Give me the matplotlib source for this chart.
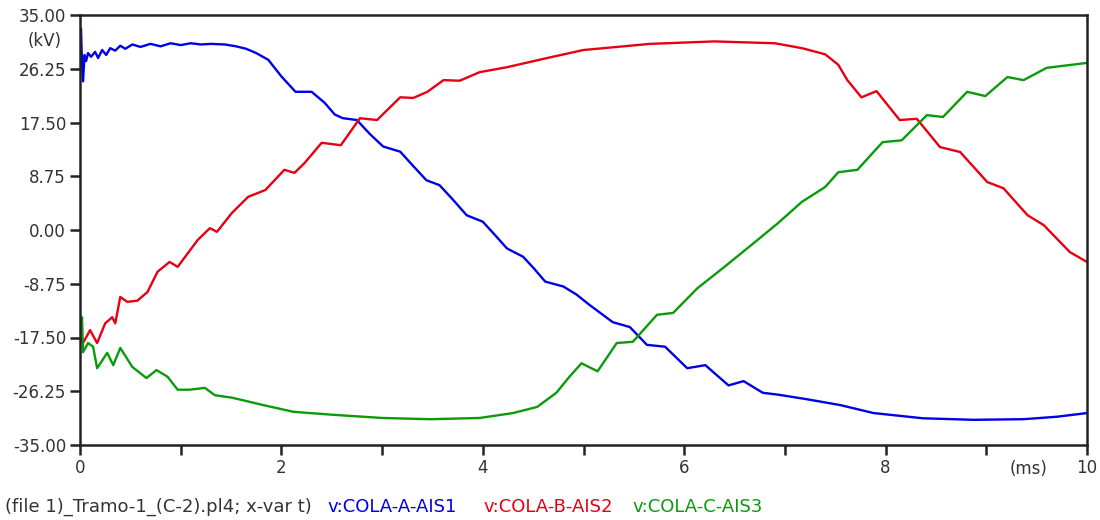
import matplotlib
matplotlib.use("Agg")
import matplotlib.pyplot as plt
from matplotlib.ticker import FixedLocator, FixedFormatter

# Phase voltages on the line end (kV) against time (ms)
t_a = [0.00, 0.01, 0.02, 0.03, 0.045, 0.06, 0.08, 0.11, 0.15, 0.18, 0.22, 0.26,
       0.30, 0.35, 0.40, 0.45, 0.52, 0.60, 0.70, 0.80, 0.90, 1.00, 1.10, 1.20,
       1.30, 1.44, 1.55, 1.65, 1.75, 1.87, 2.00, 2.14, 2.30, 2.43, 2.53, 2.61,
       2.75, 2.88, 3.01, 3.18, 3.31, 3.44, 3.57, 3.70, 3.84, 4.00, 4.12, 4.24,
       4.40, 4.51, 4.62, 4.80, 4.93, 5.06, 5.29, 5.46, 5.63, 5.81, 6.03, 6.21,
       6.44, 6.59, 6.78, 6.93, 7.20, 7.55, 7.88, 8.37, 8.87, 9.37, 9.70, 10.00]
v_a = [31.5, 32.8, 27.0, 24.2, 28.5, 27.5, 28.8, 28.2, 29.0, 28.0, 29.3, 28.5,
       29.6, 29.2, 30.0, 29.5, 30.2, 29.8, 30.3, 29.9, 30.4, 30.1, 30.4, 30.2,
       30.3, 30.2, 29.9, 29.5, 28.8, 27.7, 25.0, 22.5, 22.5, 20.7, 18.8, 18.2,
       17.9, 15.6, 13.6, 12.75, 10.4, 8.1, 7.3, 5.0, 2.4, 1.35, -0.8, -3.0,
       -4.35, -6.3, -8.4, -9.2, -10.5, -12.2, -15.0, -15.8, -18.7, -19.0, -22.5, -22.0,
       -25.3, -24.6, -26.5, -26.8, -27.5, -28.5, -29.8, -30.65, -30.9, -30.8, -30.4, -29.8]

t_b = [0.00, 0.03, 0.10, 0.17, 0.25, 0.32, 0.35, 0.40, 0.47, 0.57, 0.67, 0.77,
       0.89, 0.97, 1.17, 1.29, 1.36, 1.51, 1.67, 1.84, 2.03, 2.13, 2.23, 2.40,
       2.59, 2.78, 2.95, 3.18, 3.31, 3.45, 3.61, 3.77, 3.97, 4.24, 4.64, 5.00,
       5.66, 6.30, 6.90, 7.17, 7.40, 7.53, 7.62, 7.76, 7.91, 8.14, 8.31, 8.54,
       8.74, 9.01, 9.17, 9.41, 9.57, 9.83, 10.00]
v_b = [-17.5, -18.4, -16.3, -18.4, -15.2, -14.2, -15.2, -10.9, -11.7, -11.5, -10.1, -6.8,
       -5.2, -6.0, -1.6, 0.3, -0.3, 2.8, 5.4, 6.5, 9.8, 9.3, 10.9, 14.2,
       13.8, 18.2, 17.9, 21.6, 21.5, 22.5, 24.4, 24.3, 25.7, 26.5, 28.0, 29.3,
       30.3, 30.7, 30.4, 29.6, 28.6, 26.9, 24.4, 21.6, 22.6, 17.9, 18.1, 13.5,
       12.7, 7.8, 6.8, 2.4, 0.8, -3.6, -5.2]

t_c = [0.00, 0.02, 0.03, 0.08, 0.13, 0.17, 0.27, 0.33, 0.40, 0.52, 0.66, 0.76,
       0.87, 0.97, 1.09, 1.24, 1.34, 1.51, 1.82, 2.12, 2.53, 3.00, 3.48, 3.97,
       4.30, 4.54, 4.73, 4.86, 4.98, 5.14, 5.33, 5.49, 5.73, 5.89, 6.13, 6.40,
       6.73, 6.93, 7.17, 7.40, 7.53, 7.72, 7.97, 8.16, 8.41, 8.57, 8.81, 8.99,
       9.21, 9.37, 9.60, 10.00]
v_c = [-16.0, -14.2, -19.9, -18.4, -19.0, -22.5, -20.0, -22.0, -19.2, -22.3, -24.1, -22.8,
       -23.9, -26.0, -26.0, -25.7, -26.9, -27.3, -28.5, -29.6, -30.1, -30.6, -30.8, -30.6,
       -29.8, -28.8, -26.5, -23.9, -21.7, -23.0, -18.4, -18.2, -13.8, -13.5, -9.5, -6.0,
       -1.6, 1.1, 4.6, 7.0, 9.4, 9.8, 14.3, 14.6, 18.7, 18.4, 22.5, 21.8,
       24.9, 24.4, 26.4, 27.2]

series_names = ["v:COLA-A-AIS1", "v:COLA-B-AIS2", "v:COLA-C-AIS3"]
series_colors = ["#0000e6", "#e60012", "#0a9a0a"]

y_ticks = [-35.0, -26.25, -17.5, -8.75, 0.0, 8.75, 17.5, 26.25, 35.0]
x_ticks = [0, 1, 2, 3, 4, 5, 6, 7, 8, 9, 10]
x_tick_labels = ["0", "", "2", "", "4", "", "6", "", "8", "", "10"]
caption = "(file 1)_Tramo-1_(C-2).pl4; x-var t)"

plt.rcParams["font.family"] = ["DejaVu Sans"]
plt.rcParams["axes.unicode_minus"] = False

fig = plt.figure(figsize=(11, 5.2), dpi=100)
ax = fig.add_axes([80 / 1100, 1 - 445 / 520, 1007 / 1100, 430 / 520])

for t, v, c in zip([t_a, t_b, t_c], [v_a, v_b, v_c], series_colors):
    ax.plot(t, v, color=c, lw=1.7, solid_joinstyle="round")

ax.set_xlim(0, 10)
ax.set_ylim(-35, 35)
ax.yaxis.set_major_locator(FixedLocator(y_ticks))
ax.yaxis.set_major_formatter(FixedFormatter([f"{v:.2f}" for v in y_ticks]))
ax.xaxis.set_major_locator(FixedLocator(x_ticks))
ax.xaxis.set_major_formatter(FixedFormatter(x_tick_labels))

for s in ax.spines.values():
    s.set_linewidth(1.8)
    s.set_color("#222222")
ax.tick_params(axis="both", direction="out", length=7, width=1.8,
               color="#222222", labelsize=12, labelcolor="#333333", pad=3)

ax.text(-0.018, 0.94, "(kV)", transform=ax.transAxes, ha="right", va="center",
        fontsize=12, color="#333333")
ax.text(9.42, -37.4, "(ms)", ha="center", va="top", fontsize=12, color="#333333",
        clip_on=False)

fig.text(5 / 1100, 1 - 507 / 520, caption, ha="left", va="center",
         fontsize=13, color="#333333")
for name, c, x0 in zip(series_names, series_colors, [327, 483, 632]):
    fig.text(x0 / 1100, 1 - 507 / 520, name, ha="left", va="center",
             fontsize=13, color=c)

fig.savefig("out.png", dpi=100, facecolor="white")
